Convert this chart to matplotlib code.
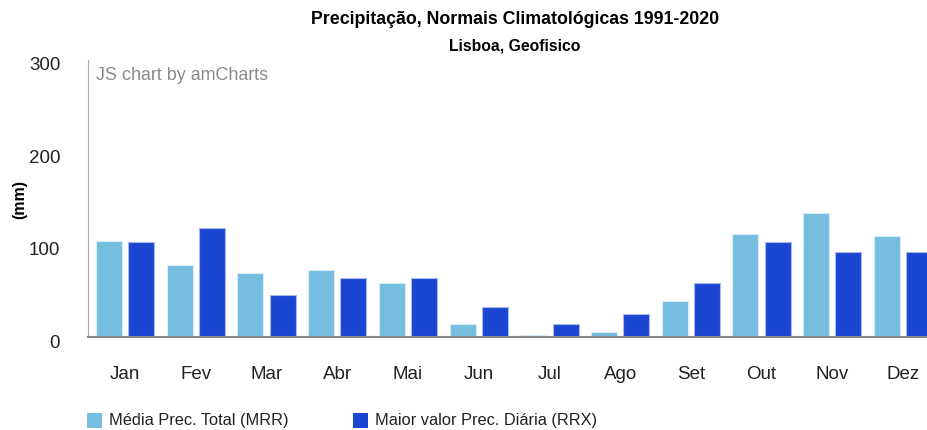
import matplotlib.pyplot as plt
import matplotlib.transforms as mtransforms
import numpy as np
from matplotlib.patches import Rectangle

plt.rcParams['font.family'] = ['Liberation Sans', 'DejaVu Sans']

# Monthly normals, Lisboa Geofisico (mm)
months = ['Jan', 'Fev', 'Mar', 'Abr', 'Mai', 'Jun',
          'Jul', 'Ago', 'Set', 'Out', 'Nov', 'Dez']
mrr = [104.3, 77.9, 69.2, 72.8, 58.7, 14.5, 2.2, 5.8, 39.0, 111.6, 134.4, 109.4]
rrx = [102.5, 118.5, 46.0, 63.8, 63.8, 32.2, 14.5, 25.0, 58.3, 102.5, 92.0, 92.0]
y_ticks = [0, 100, 200, 300]
series_names = ['Média Prec. Total (MRR)', 'Maior valor Prec. Diária (RRX)']

light = '#76BEDF'
dark = '#1A46D1'
text_col = '#222222'

W, H = 927, 430


def main():
    fig = plt.figure(figsize=(W / 100, H / 100), dpi=100)
    ax = fig.add_axes([88 / W, 1 - 337 / H, (W - 88) / W, 277 / H])

    x = np.arange(len(months))
    w = 0.368
    off = 0.228
    ax.bar(x - off, mrr, width=w, color=light, edgecolor='#D6ECF7',
           linewidth=0.8, zorder=2)
    ax.bar(x + off, rrx, width=w, color=dark, edgecolor='#A9B9EE',
           linewidth=0.8, zorder=2)

    ax.set_xlim(-0.526, (W - 125.2) / 70.7)
    ax.set_ylim(0, 300)
    ax.set_yticks(y_ticks)
    ax.set_xticks(x)
    ax.set_xticklabels(months)
    ax.tick_params(axis='both', length=0, labelsize=13.5, colors=text_col)
    ax.tick_params(axis='y', pad=20)
    ax.tick_params(axis='x', pad=21)

    # amCharts draws the value labels a few pixels below the grid value
    shift = mtransforms.ScaledTranslation(0, -4 / 100, fig.dpi_scale_trans)
    for lab in ax.get_yticklabels():
        lab.set_transform(lab.get_transform() + shift)

    for s in ['top', 'right']:
        ax.spines[s].set_visible(False)
    ax.spines['left'].set_color('#AAAAAA')
    ax.spines['bottom'].set_color('#888888')
    ax.spines['bottom'].set_linewidth(1.5)

    fig.text(20 / W, 1 - 200 / H, '(mm)', rotation=90, ha='center',
             va='center', fontsize=11.5, fontweight='bold')

    fig.text(515 / W, 1 - 20 / H, 'Precipitação, Normais Climatológicas 1991-2020',
             ha='center', va='center', fontsize=12.8, fontweight='bold')
    fig.text(515 / W, 1 - 46 / H, 'Lisboa, Geofisico',
             ha='center', va='center', fontsize=11.3, fontweight='bold')
    fig.text(96 / W, 1 - 75 / H, 'JS chart by amCharts',
             ha='left', va='center', fontsize=12.9, color='#8A8A8A')

    # legend drawn by hand to match the reference positions
    for col, name, sx in zip([light, dark], series_names, [87, 353]):
        fig.patches.append(Rectangle((sx / W, 1 - 428 / H), 15 / W, 15 / H,
                                     transform=fig.transFigure,
                                     facecolor=col, edgecolor='none'))
        fig.text((sx + 22) / W, 1 - 420 / H, name, ha='left', va='center',
                 fontsize=11.8, color=text_col)

    fig.savefig('out.png', dpi=100)


if __name__ == '__main__':
    main()
